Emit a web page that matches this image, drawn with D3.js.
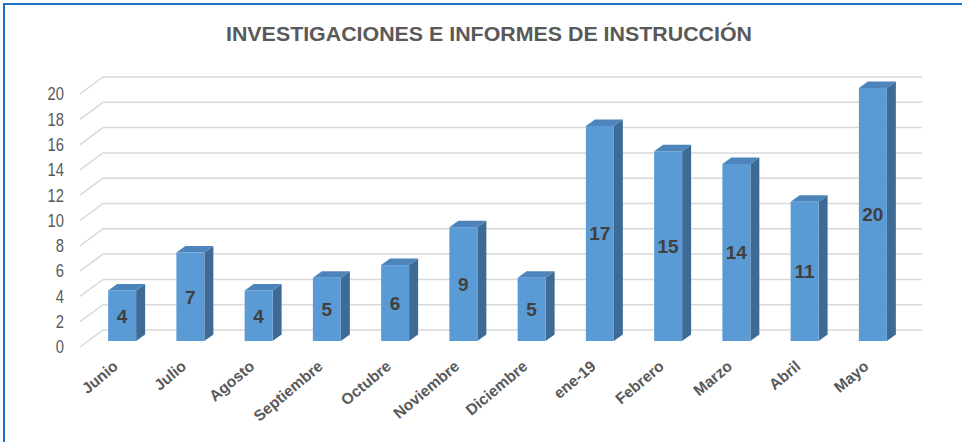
<!DOCTYPE html>
<html>
<head>
<meta charset="utf-8">
<script src="https://cdn.jsdelivr.net/npm/d3@7"></script>
<style>
  body { margin: 0; background: #fff; }
  svg { display: block; font-family: "Liberation Sans", Arial, sans-serif; }
</style>
</head>
<body>
<svg id="chart" width="962" height="442"></svg>
<script>
  // chart data
  var months = ["Junio", "Julio", "Agosto", "Septiembre", "Octubre", "Noviembre",
                "Diciembre", "ene-19", "Febrero", "Marzo", "Abril", "Mayo"];
  var values = [4, 7, 4, 5, 6, 9, 5, 17, 15, 14, 11, 20];
  var yTicks = [0, 2, 4, 6, 8, 10, 12, 14, 16, 18, 20];
  var title = "INVESTIGACIONES E INFORMES DE INSTRUCCIÓN";

  var svg = d3.select("#chart");

  // frame (left + top blue border)
  svg.append("path")
    .attr("d", "M4,442 L4,4 L962,4")
    .attr("fill", "none")
    .attr("stroke", "#1f72c6")
    .attr("stroke-width", 2);

  // front plane scales, depth vectors for the fake 3d
  var x = d3.scaleBand()
    .domain(months)
    .range([80, 899])
    .paddingInner(0.59)
    .paddingOuter(0.295);

  var y = d3.scaleLinear()
    .domain([0, 20])
    .range([347, 94]);

  var wall = {dx: 23, dy: -17};   // full depth of the floor
  var barOff = {dx: 8, dy: -6};   // where bar front face sits
  var barDepth = {dx: 9, dy: -6.5};

  // gridlines: side wall diagonal + back wall line
  svg.append("g").selectAll("path")
    .data(yTicks)
    .join("path")
      .attr("fill", "none")
      .attr("stroke", "#d9d9d9")
      .attr("stroke-width", 1.5)
      .attr("d", function(t) {
        var yy = y(t);
        return "M" + 80 + "," + yy +
               " L" + (80 + wall.dx) + "," + (yy + wall.dy) +
               " L" + (899 + wall.dx) + "," + (yy + wall.dy);
      });

  // y tick labels (narrow gray)
  svg.append("g").selectAll("text")
    .data(yTicks)
    .join("text")
      .attr("transform", function(t) { return "translate(64," + y(t) + ") scale(0.82,1)"; })
      .attr("text-anchor", "end")
      .attr("dy", "0.35em")
      .attr("font-size", 18)
      .attr("fill", "#595959")
      .text(function(t) { return t; });

  // bars
  var bw = x.bandwidth();
  var bars = svg.append("g").selectAll("g")
    .data(months)
    .join("g")
      .attr("transform", "translate(" + barOff.dx + "," + barOff.dy + ")");

  bars.append("path")  // right side
    .attr("fill", "#3e6b96")
    .attr("d", function(d, i) {
      var x1 = x(d) + bw, y0 = y(0), y1 = y(values[i]);
      return "M" + x1 + "," + y1 + " L" + (x1 + barDepth.dx) + "," + (y1 + barDepth.dy) +
             " L" + (x1 + barDepth.dx) + "," + (y0 + barDepth.dy) + " L" + x1 + "," + y0 + "Z";
    });

  bars.append("path")  // top
    .attr("fill", "#4d84bb")
    .attr("d", function(d, i) {
      var x0 = x(d), y1 = y(values[i]);
      return "M" + x0 + "," + y1 + " L" + (x0 + barDepth.dx) + "," + (y1 + barDepth.dy) +
             " L" + (x0 + bw + barDepth.dx) + "," + (y1 + barDepth.dy) + " L" + (x0 + bw) + "," + y1 + "Z";
    });

  bars.append("rect")  // front
    .attr("x", function(d) { return x(d); })
    .attr("y", function(d, i) { return y(values[i]); })
    .attr("width", bw)
    .attr("height", function(d, i) { return y(0) - y(values[i]); })
    .attr("fill", "#5b9bd5");

  bars.append("text")
    .attr("x", function(d) { return x(d) + bw / 2; })
    .attr("y", function(d, i) { return (y(0) + y(values[i])) / 2; })
    .attr("dy", "0.36em")
    .attr("text-anchor", "middle")
    .attr("font-size", 19)
    .attr("font-weight", "bold")
    .attr("fill", "#404040")
    .text(function(d, i) { return values[i]; });

  // x labels, rotated
  svg.append("g").selectAll("text")
    .data(months)
    .join("text")
      .attr("transform", function(d) {
        return "translate(" + (x(d) + bw / 2 + 5) + ",368) rotate(-40)";
      })
      .attr("text-anchor", "end")
      .attr("font-size", 15.5)
      .attr("font-weight", "bold")
      .attr("fill", "#595959")
      .text(function(d) { return d; });

  // title
  svg.append("text")
    .attr("x", 489)
    .attr("y", 41)
    .attr("text-anchor", "middle")
    .attr("font-size", 21)
    .attr("font-weight", "bold")
    .attr("fill", "#595959")
    .attr("textLength", 526)
    .attr("lengthAdjust", "spacingAndGlyphs")
    .text(title);
</script>
</body>
</html>
